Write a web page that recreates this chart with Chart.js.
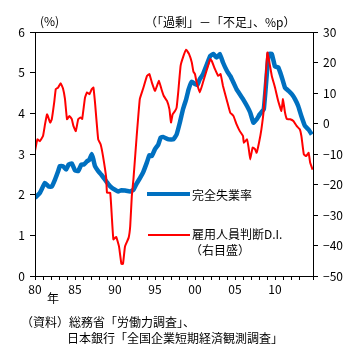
<!DOCTYPE html>
<html>
<head>
<meta charset="utf-8">
<script src="https://cdn.jsdelivr.net/npm/chart.js@4/dist/chart.umd.min.js"></script>
<style>
body { margin: 0; background: #fff; }
#wrap { position: relative; width: 354px; height: 354px; font-family: "Noto Sans CJK JP", sans-serif; font-size: 12px; color: #000; }
#wrap canvas { position: absolute; left: 0; top: 0; }
.txt { position: absolute; white-space: nowrap; line-height: 14px; }
.key { position: absolute; }
</style>
</head>
<body>
<div id="wrap">
	<canvas id="myChart" width="354" height="354"></canvas>
	<div class="txt" style="left:40px; top:14px;">(%)</div>
	<div class="txt" style="left:145px; top:15px;">（「過剰」－「不足」、%p）</div>
	<div class="key" style="left:147px; top:192px; width:43px; height:4px; background:#0070C0;"></div>
	<div class="txt" style="left:192px; top:188px;">完全失業率</div>
	<div class="key" style="left:148px; top:234px; width:42px; height:2px; background:#FF0000;"></div>
	<div class="txt" style="left:192px; top:227px;">雇用人員判断D.I.</div>
	<div class="txt" style="left:190px; top:243px;">（右目盛）</div>
	<div class="txt" style="left:47px; top:291px;">年</div>
	<div class="txt" style="left:21px; top:315px;">（資料）総務省「労働力調査」、</div>
	<div class="txt" style="left:67px; top:331px;">日本銀行「全国企業短期経済観測調査」</div>
</div>
<script>
//global variables
var fontName = "Noto Sans CJK JP";

// unemployment rate (left axis, %)
var rateYears = [1980.0, 1980.6, 1981.25, 1981.7, 1982.1, 1982.5, 1982.9, 1983.1, 1983.5, 1983.9,
	1984.2, 1984.6, 1985.0, 1985.4, 1985.8, 1986.1, 1986.5, 1986.8, 1987.1, 1987.3,
	1987.5, 1987.9, 1988.3, 1988.75, 1989.2, 1989.6, 1990.0, 1990.4, 1990.8, 1991.25,
	1991.9, 1992.3, 1992.7, 1993.1, 1993.5, 1994.0, 1994.3, 1994.6, 1995.0, 1995.4,
	1995.7, 1996.0, 1996.7, 1997.3, 1997.7, 1998.1, 1998.5, 1998.9, 1999.2, 1999.6,
	2000.0, 2000.3, 2000.6, 2001.0, 2001.5, 2001.9, 2002.3, 2002.7, 2003.1, 2003.5,
	2004.0, 2004.4, 2004.8, 2005.2, 2005.6, 2006.0, 2006.5, 2006.9, 2007.3, 2007.7,
	2008.1, 2008.6, 2009.2, 2009.6, 2010.0, 2010.4, 2010.8, 2011.25, 2011.7, 2012.1,
	2012.5, 2012.9, 2013.3, 2013.75, 2014.2, 2014.6];
var rateValues = [1.92, 2.04, 2.29, 2.2, 2.2, 2.37, 2.58, 2.7, 2.7, 2.62,
	2.74, 2.77, 2.6, 2.58, 2.74, 2.74, 2.82, 2.86, 3.0, 2.86,
	2.7, 2.58, 2.49, 2.37, 2.25, 2.17, 2.12, 2.08, 2.11, 2.1,
	2.08, 2.12, 2.27, 2.4, 2.54, 2.8, 2.97, 2.95, 3.12, 3.23,
	3.4, 3.42, 3.36, 3.36, 3.48, 3.77, 4.1, 4.35, 4.59, 4.78,
	4.72, 4.7, 4.84, 4.96, 5.21, 5.41, 5.46, 5.37, 5.46, 5.25,
	5.04, 4.92, 4.76, 4.59, 4.47, 4.35, 4.18, 4.02, 3.77, 3.85,
	3.98, 4.1, 5.46, 5.46, 5.15, 5.13, 4.92, 4.63, 4.55, 4.47,
	4.35, 4.18, 3.93, 3.69, 3.6, 3.48];

// employment conditions D.I. (right axis, %p)
var diYears = [1980.0, 1980.3, 1980.6, 1981.0, 1981.25, 1981.5, 1981.6, 1981.9, 1982.1, 1982.4,
	1982.6, 1982.9, 1983.2, 1983.5, 1983.75, 1984.0, 1984.3, 1984.6, 1984.8, 1985.1,
	1985.4, 1985.7, 1985.9, 1986.25, 1986.5, 1986.8, 1987.1, 1987.3, 1987.5, 1987.9,
	1988.2, 1988.5, 1988.9, 1989.0, 1989.4, 1989.6, 1989.8, 1990.15, 1990.5, 1990.8,
	1991.0, 1991.25, 1991.7, 1991.9, 1992.1, 1992.3, 1992.4, 1992.7, 1993.1, 1993.5,
	1994.0, 1994.3, 1994.6, 1995.0, 1995.2, 1995.5, 1995.8, 1996.1, 1996.5, 1996.8,
	1997.0, 1997.2, 1997.5, 1997.7, 1997.9, 1998.2, 1998.5, 1998.9, 1999.25, 1999.6,
	1999.8, 2000.0, 2000.2, 2000.6, 2001.0, 2001.5, 2001.9, 2002.1, 2002.5, 2002.9,
	2003.2, 2003.5, 2004.0, 2004.4, 2004.8, 2005.2, 2005.6, 2006.0, 2006.1, 2006.5,
	2006.7, 2006.9, 2007.2, 2007.5, 2007.7, 2008.0, 2008.3, 2008.6, 2008.9, 2009.05,
	2009.3, 2009.6, 2010.0, 2010.4, 2010.8, 2011.0, 2011.25, 2011.5, 2011.9, 2012.3,
	2012.7, 2013.1, 2013.3, 2013.6, 2013.9, 2014.2, 2014.4, 2014.7];
var diValues = [-9.0, -5.2, -5.8, -4.1, -0.3, 3.0, 2.5, 0.3, 1.4, 6.9,
	11.3, 11.8, 13.2, 11.5, 8.0, 1.4, 2.5, 1.4, -0.8, -2.5,
	1.4, 2.0, 1.5, 8.5, 10.2, 9.6, 11.3, 11.8, 6.9, -5.2,
	-6.8, -10.7, -17.8, -22.7, -22.7, -30.4, -38.0, -37.2, -40.3, -46.0,
	-46.0, -40.3, -37.5, -33.7, -23.8, -18.4, -15.0, -4.5, 8.0, 11.3,
	15.6, 16.2, 13.5, 10.7, 12.0, 14.0, 11.3, 9.0, 7.4, 4.7,
	0.3, 3.0, 4.1, 5.2, 10.2, 18.9, 21.7, 24.2, 22.8, 20.0,
	17.0, 16.2, 13.5, 10.2, 13.5, 17.8, 21.1, 20.5, 17.8, 15.6,
	16.2, 12.3, 7.4, 3.6, 2.5, -0.3, -2.5, -4.1, -6.3, -5.2,
	-7.9, -11.8, -7.9, -8.4, -9.6, -6.3, -1.9, 4.7, 18.0, 23.3,
	20.0, 15.6, 11.8, 7.4, 4.1, 8.0, 3.6, 1.4, 1.4, 0.8,
	-0.8, -1.9, -4.1, -10.1, -10.7, -9.6, -12.9, -15.1];

// axis ranges and ticks
var yearMin = 1980;
var yearMax = 2014.75;
var rateTicks = [0, 6, 1];
var diTicks = [-50, 30, 10];

//turn two arrays into points for the chart
function toPoints(xs, ys){
	var pts = [];
	for(var i = 0; i < xs.length; i++)
	{
		pts.push({x: xs[i], y: ys[i]});
	}
	return pts;
}

//label only every 5 years, like 80 85 90 ... 00 05 10
function yearLabel(value){
	if(Math.abs(value - Math.round(value)) > 0.001) return '';
	var v = Math.round(value);
	if(v % 5 != 0) return '';
	var s = String(v % 100);
	if(s.length < 2) s = '0' + s;
	return s;
}

function minusLabel(value){
	return String(value).replace('-', '\u2212');
}

//frame round the plot area
var framePlugin = {
	id: 'frame',
	afterDraw: function(chart){
		var a = chart.chartArea;
		var ctx = chart.ctx;
		ctx.save();
		ctx.strokeStyle = '#000';
		ctx.lineWidth = 1;
		ctx.strokeRect(Math.round(a.left) + 0.5, Math.round(a.top) + 0.5, Math.round(a.right - a.left), Math.round(a.bottom - a.top));
		ctx.restore();
	}
};

function showChart(){
	var ctx = document.getElementById('myChart');
	var tickFont = {family: fontName, size: 12};

	var data = {
		datasets: [
			{
				label: '雇用人員判断D.I.',
				data: toPoints(diYears, diValues),
				yAxisID: 'yRight',
				borderColor: '#FF0000',
				borderWidth: 2,
				pointRadius: 0,
				tension: 0.1
			},
			{
				label: '完全失業率',
				data: toPoints(rateYears, rateValues),
				yAxisID: 'yLeft',
				borderColor: '#0070C0',
				borderWidth: 4.5,
				pointRadius: 0,
				tension: 0.1
			}
		]
	};

	new Chart(ctx, {
		type: 'line',
		data: data,
		plugins: [framePlugin],
		options: {
			responsive: false,
			animation: false,
			devicePixelRatio: 1,
			layout: { padding: {top: 32, left: 0, right: 0, bottom: 0} },
			plugins: { legend: {display: false}, tooltip: {enabled: false} },
			scales: {
				x: {
					type: 'linear',
					min: yearMin,
					max: yearMax,
					afterFit: function(scale){ scale.height = 78; },
					grid: { drawOnChartArea: false, tickLength: 4, color: '#000', tickColor: '#000' },
					border: { color: '#000' },
					ticks: { stepSize: 1, autoSkip: false, maxRotation: 0, padding: 2, color: '#000', font: tickFont, callback: yearLabel }
				},
				yLeft: {
					position: 'left',
					min: rateTicks[0],
					max: rateTicks[1],
					afterFit: function(scale){ scale.width = 35; },
					grid: { drawOnChartArea: false, tickLength: 5, color: '#000', tickColor: '#000' },
					border: { color: '#000' },
					ticks: { stepSize: rateTicks[2], padding: 5, color: '#000', font: tickFont }
				},
				yRight: {
					position: 'right',
					min: diTicks[0],
					max: diTicks[1],
					afterFit: function(scale){ scale.width = 41; },
					grid: { drawOnChartArea: false, tickLength: 5, color: '#000', tickColor: '#000' },
					border: { color: '#000' },
					ticks: { stepSize: diTicks[2], padding: 5, color: '#000', font: tickFont, callback: minusLabel }
				}
			}
		}
	});
}

showChart();
</script>
</body>
</html>
